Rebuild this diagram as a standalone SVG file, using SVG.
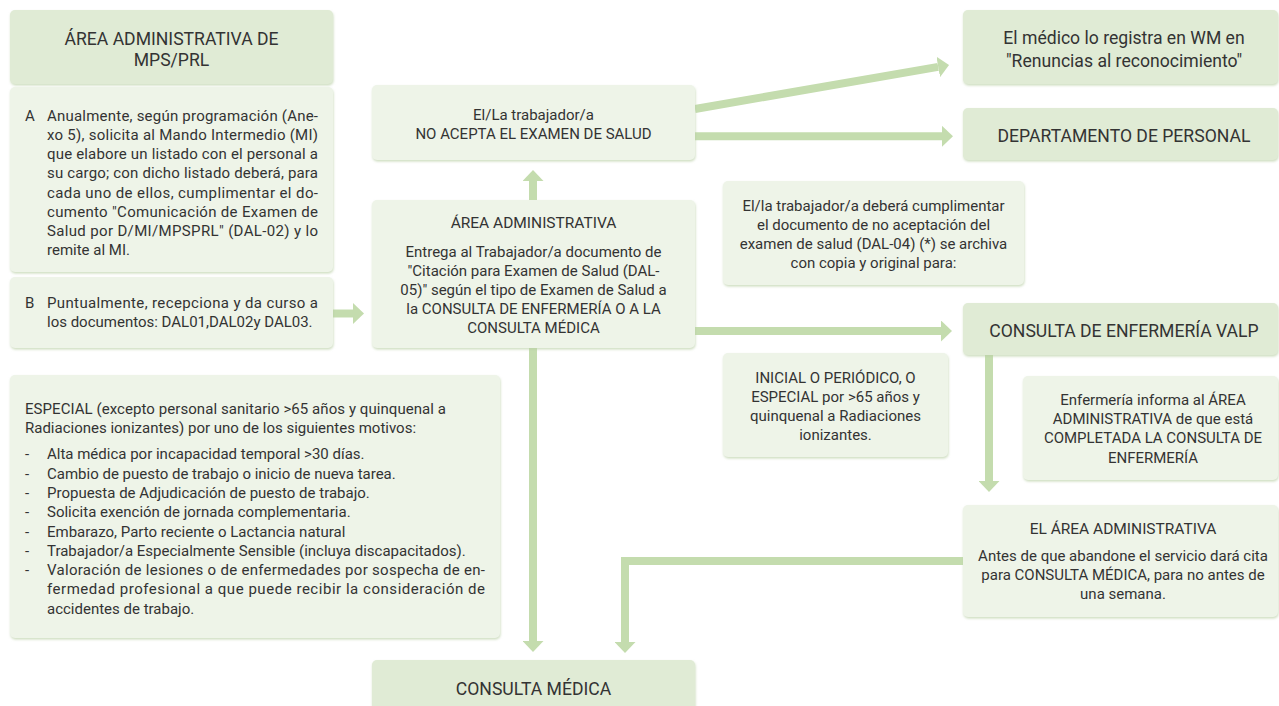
<svg xmlns="http://www.w3.org/2000/svg" width="1279" height="706" viewBox="0 0 1279 706">
  <defs>
    <style>
      .box-dark { fill: #e0ebd5; }
      .box-light { fill: #eef4e8; }
      .conn { fill: none; stroke: #c4dcae; stroke-width: 8; stroke-linecap: butt; stroke-linejoin: miter; }
      text { font-family: Roboto, "Liberation Sans", sans-serif; fill: #333333; }
      .t { font-size: 15px; }
      .h { font-size: 17.6px; }
      .m { font-size: 15.5px; }
      .c { text-anchor: middle; }
    </style>
    <filter id="shade" x="-5%" y="-5%" width="110%" height="115%">
      <feDropShadow dx="0.5" dy="1.5" stdDeviation="0.8" flood-color="#b9cfa5" flood-opacity="0.7"/>
    </filter>
    <marker id="head" viewBox="0 0 11 21" refX="0" refY="10.5" markerWidth="11" markerHeight="21" markerUnits="userSpaceOnUse" orient="auto">
      <path d="M0,0 L11,10.5 L0,21 Z" fill="#c4dcae"/>
    </marker>
  </defs>

  <!-- connectors -->
  <g id="connectors">
    <path class="conn" d="M333,313.5 H353" marker-end="url(#head)"/>
    <path class="conn" d="M533,200 V181" marker-end="url(#head)"/>
    <path class="conn" d="M695,109 L938.2,66.9" marker-end="url(#head)"/>
    <path class="conn" d="M695,136.3 H942" marker-end="url(#head)"/>
    <path class="conn" d="M695,331 H941" marker-end="url(#head)"/>
    <path class="conn" d="M533,348 V641" marker-end="url(#head)"/>
    <path class="conn" d="M989,355 V481" marker-end="url(#head)"/>
    <path class="conn" d="M963,561 H625 V642" marker-end="url(#head)"/>
  </g>

  <!-- left column -->
  <g id="mps-header">
    <rect class="box-dark" x="10" y="10" width="323" height="74" rx="5" filter="url(#shade)"/>
    <text class="h c" x="171.5" y="45">ÁREA ADMINISTRATIVA DE</text>
    <text class="h c" x="171.5" y="66">MPS/PRL</text>
  </g>

  <g id="step-a">
    <rect class="box-light" x="10" y="87" width="323" height="185" rx="5" filter="url(#shade)"/>
    <text class="t" x="25" y="120.7">A</text>
    <text class="t" x="47" y="120.7" textLength="271" lengthAdjust="spacing">Anualmente, según programación (Ane-</text>
    <text class="t" x="47" y="139.9" textLength="271" lengthAdjust="spacing">xo 5), solicita al Mando Intermedio (MI)</text>
    <text class="t" x="47" y="159.1" textLength="271" lengthAdjust="spacing">que elabore un listado con el personal a</text>
    <text class="t" x="47" y="178.3" textLength="271" lengthAdjust="spacing">su cargo; con dicho listado deberá, para</text>
    <text class="t" x="47" y="197.5" textLength="271" lengthAdjust="spacing">cada uno de ellos, cumplimentar el do-</text>
    <text class="t" x="47" y="216.7" textLength="271" lengthAdjust="spacing">cumento "Comunicación de Examen de</text>
    <text class="t" x="47" y="235.9" textLength="271" lengthAdjust="spacing">Salud por D/MI/MPSPRL" (DAL-02) y lo</text>
    <text class="t" x="47" y="255.1">remite al MI.</text>
  </g>

  <g id="step-b">
    <rect class="box-light" x="10" y="277" width="323" height="71" rx="5" filter="url(#shade)"/>
    <text class="t" x="25" y="308">B</text>
    <text class="t" x="47" y="308" textLength="271" lengthAdjust="spacing">Puntualmente, recepciona y da curso a</text>
    <text class="t" x="47" y="327">los documentos: DAL01,DAL02y DAL03.</text>
  </g>

  <g id="especial">
    <rect class="box-light" x="10" y="375" width="490" height="263" rx="5" filter="url(#shade)"/>
    <text class="t" x="25" y="414" textLength="421" lengthAdjust="spacing">ESPECIAL (excepto personal sanitario &gt;65 años y quinquenal a</text>
    <text class="t" x="25" y="433.3">Radiaciones ionizantes) por uno de los siguientes motivos:</text>
    <text class="t" x="25" y="459.3">-</text>
    <text class="t" x="47" y="459.3">Alta médica por incapacidad temporal &gt;30 días.</text>
    <text class="t" x="25" y="478.6">-</text>
    <text class="t" x="47" y="478.6">Cambio de puesto de trabajo o inicio de nueva tarea.</text>
    <text class="t" x="25" y="497.9">-</text>
    <text class="t" x="47" y="497.9">Propuesta de Adjudicación de puesto de trabajo.</text>
    <text class="t" x="25" y="517.2">-</text>
    <text class="t" x="47" y="517.2">Solicita exención de jornada complementaria.</text>
    <text class="t" x="25" y="536.5">-</text>
    <text class="t" x="47" y="536.5">Embarazo, Parto reciente o Lactancia natural</text>
    <text class="t" x="25" y="555.8">-</text>
    <text class="t" x="47" y="555.8">Trabajador/a Especialmente Sensible (incluya discapacitados).</text>
    <text class="t" x="25" y="575.1">-</text>
    <text class="t" x="47" y="575.1" textLength="438" lengthAdjust="spacing">Valoración de lesiones o de enfermedades por sospecha de en-</text>
    <text class="t" x="47" y="594.4" textLength="438" lengthAdjust="spacing">fermedad profesional a que puede recibir la consideración de</text>
    <text class="t" x="47" y="613.7">accidentes de trabajo.</text>
  </g>

  <!-- centre column -->
  <g id="no-acepta">
    <rect class="box-light" x="372" y="85" width="323" height="75" rx="5" filter="url(#shade)"/>
    <text class="t c" x="533.5" y="120">El/La trabajador/a</text>
    <text class="t c" x="533.5" y="139">NO ACEPTA EL EXAMEN DE SALUD</text>
  </g>

  <g id="area-administrativa">
    <rect class="box-light" x="372" y="200" width="323" height="148" rx="5" filter="url(#shade)"/>
    <text class="m c" x="533.5" y="228">ÁREA ADMINISTRATIVA</text>
    <text class="t c" x="533.5" y="257">Entrega al Trabajador/a documento de</text>
    <text class="t c" x="533.5" y="276">"Citación para Examen de Salud (DAL-</text>
    <text class="t c" x="533.5" y="295">05)" según el tipo de Examen de Salud a</text>
    <text class="t c" x="533.5" y="313.5">la CONSULTA DE ENFERMERÍA O A LA</text>
    <text class="t c" x="533.5" y="332.5">CONSULTA MÉDICA</text>
  </g>

  <g id="consulta-medica">
    <rect class="box-dark" x="372" y="660" width="323" height="60" rx="5" filter="url(#shade)"/>
    <text class="h c" x="533.5" y="695">CONSULTA MÉDICA</text>
  </g>

  <!-- right column -->
  <g id="renuncias">
    <rect class="box-dark" x="963" y="10" width="315" height="74" rx="5" filter="url(#shade)"/>
    <text class="h c" x="1124" y="44.3">El médico lo registra en WM en</text>
    <text class="h c" x="1124" y="66.7">"Renuncias al reconocimiento"</text>
  </g>

  <g id="departamento-personal">
    <rect class="box-dark" x="963" y="108" width="315" height="52" rx="5" filter="url(#shade)"/>
    <text class="h c" x="1124" y="141.7">DEPARTAMENTO DE PERSONAL</text>
  </g>

  <g id="nota-dal04">
    <rect class="box-light" x="723" y="181" width="301" height="104" rx="5" filter="url(#shade)"/>
    <text class="t c" x="873.5" y="210.7">El/la trabajador/a deberá cumplimentar</text>
    <text class="t c" x="873.5" y="230">el documento de no aceptación del</text>
    <text class="t c" x="873.5" y="249.3">examen de salud (DAL-04) (*) se archiva</text>
    <text class="t c" x="873.5" y="268.3">con copia y original para:</text>
  </g>

  <g id="consulta-enfermeria">
    <rect class="box-dark" x="963" y="303" width="315" height="52" rx="5" filter="url(#shade)"/>
    <text class="h c" x="1124" y="336.7">CONSULTA DE ENFERMERÍA VALP</text>
  </g>

  <g id="nota-tipo">
    <rect class="box-light" x="723" y="353" width="225" height="104" rx="5" filter="url(#shade)"/>
    <text class="t c" x="835.5" y="382.7">INICIAL O PERIÓDICO, O</text>
    <text class="t c" x="835.5" y="401.7">ESPECIAL por &gt;65 años y</text>
    <text class="t c" x="835.5" y="421">quinquenal a Radiaciones</text>
    <text class="t c" x="835.5" y="440">ionizantes.</text>
  </g>

  <g id="nota-enfermeria">
    <rect class="box-light" x="1023" y="376" width="255" height="104" rx="5" filter="url(#shade)"/>
    <text class="t c" x="1153" y="405">Enfermería informa al ÁREA</text>
    <text class="t c" x="1153" y="424">ADMINISTRATIVA de que está</text>
    <text class="t c" x="1153" y="443.3">COMPLETADA LA CONSULTA DE</text>
    <text class="t c" x="1153" y="462.7">ENFERMERÍA</text>
  </g>

  <g id="el-area-administrativa">
    <rect class="box-light" x="963" y="505" width="315" height="112" rx="5" filter="url(#shade)"/>
    <text class="m c" x="1123" y="534.3">EL ÁREA ADMINISTRATIVA</text>
    <text class="t c" x="1123" y="561">Antes de que abandone el servicio dará cita</text>
    <text class="t c" x="1123" y="580">para CONSULTA MÉDICA, para no antes de</text>
    <text class="t c" x="1123" y="599.3">una semana.</text>
  </g>
</svg>
